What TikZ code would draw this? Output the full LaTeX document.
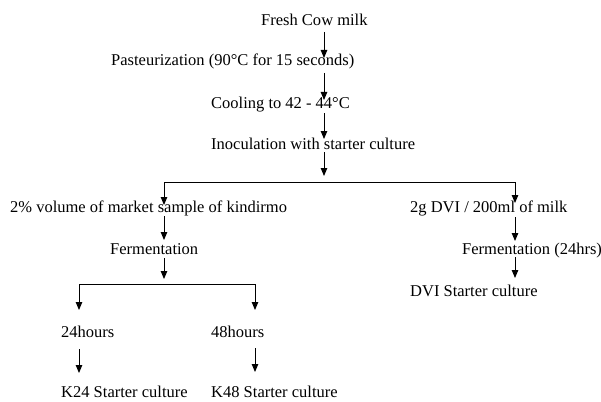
\documentclass[tikz,border=0pt]{standalone}
\usepackage{fontspec}
\setmainfont{Liberation Serif}
\usetikzlibrary{arrows.meta}
\begin{document}
\begin{tikzpicture}[x=1pt,y=-1pt,
  lbl/.style={anchor=base west,inner sep=0pt,font=\fontsize{16.5}{19}\selectfont},
  arr/.style={-{Triangle[length=8pt,width=6.5pt]},line width=0.9pt},
  ln/.style={line width=0.9pt}]
\useasboundingbox (0,0) rectangle (601,401);
% texts
\node[lbl] (fresh) at (261,26) {Fresh Cow milk};
\node[lbl] (past) at (111,66) {Pasteurization (90°C for 15 seconds)};
\node[lbl] (cool) at (211,108) {Cooling to 42 - 44°C};
\node[lbl] (inoc) at (211,149) {Inoculation with starter culture};
\node[lbl] (kind) at (10,212) {2\% volume of market sample of kindirmo};
\node[lbl] (ferm) at (110,254) {Fermentation};
\node[lbl] (dvi) at (410,212) {2g DVI / 200ml of milk};
\node[lbl] (fermd) at (462,254) {Fermentation (24hrs)};
\node[lbl] (dvis) at (410,296) {DVI Starter culture};
\node[lbl] (h24) at (61,337) {24hours};
\node[lbl] (h48) at (211,337) {48hours};
\node[lbl] (k24) at (61,397) {K24 Starter culture};
\node[lbl] (k48) at (211,397) {K48 Starter culture};
% coordinates
\coordinate (a1s) at (324,32); \coordinate (a1e) at (324,58);
\coordinate (a2s) at (324,73); \coordinate (a2e) at (324,100);
\coordinate (a3s) at (324,113); \coordinate (a3e) at (324,139);
\coordinate (a4s) at (324,152); \coordinate (a4e) at (324,176);
\coordinate (hl) at (164,182); \coordinate (hr) at (515,182);
\coordinate (kl) at (164,205); \coordinate (kr) at (515,203);
\coordinate (b1s) at (164,216); \coordinate (b1e) at (164,240);
\coordinate (b2s) at (164,258); \coordinate (b2e) at (164,279);
\coordinate (h2l) at (79,284); \coordinate (h2r) at (255,284);
\coordinate (t24) at (79,310); \coordinate (t48) at (255,310);
\coordinate (c1s) at (79,349); \coordinate (c1e) at (79,373);
\coordinate (c2s) at (255,348); \coordinate (c2e) at (255,372);
\coordinate (d1s) at (515,217); \coordinate (d1e) at (515,241);
\coordinate (d2s) at (515,257); \coordinate (d2e) at (515,278);
% connectors
\draw[arr] (a1s) -- (a1e);
\draw[arr] (a2s) -- (a2e);
\draw[arr] (a3s) -- (a3e);
\draw[arr] (a4s) -- (a4e);
\draw[ln] (hl) -- (hr);
\draw[arr] (hl) -- (kl);
\draw[arr] (hr) -- (kr);
\draw[arr] (b1s) -- (b1e);
\draw[arr] (b2s) -- (b2e);
\draw[ln] (h2l) -- (h2r);
\draw[arr] (h2l) -- (t24);
\draw[arr] (h2r) -- (t48);
\draw[arr] (c1s) -- (c1e);
\draw[arr] (c2s) -- (c2e);
\draw[arr] (d1s) -- (d1e);
\draw[arr] (d2s) -- (d2e);
\end{tikzpicture}
\end{document}
